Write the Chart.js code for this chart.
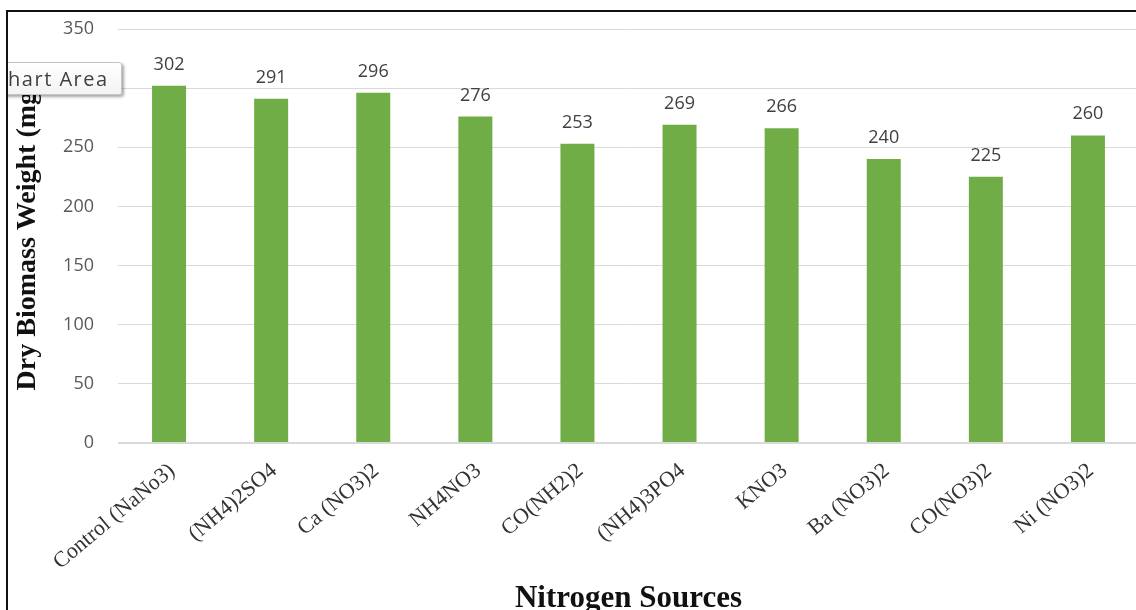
<!DOCTYPE html>
<html>
<head>
<meta charset="utf-8">
<title>Dry Biomass Weight by Nitrogen Source</title>
<script src="https://cdn.jsdelivr.net/npm/chart.js@4.4.1/dist/chart.umd.min.js"></script>
<style>
  html, body { margin: 0; padding: 0; background: #fff; overflow: hidden; width: 1136px; height: 610px; }
  #frame {
    position: absolute; left: 6px; top: 10px; width: 1200px; height: 700px;
    border-left: 2px solid #111; border-top: 2px solid #111;
    overflow: hidden;
  }
  #chart { position: absolute; left: -8px; top: -12px; }
  #areaTag {
    position: absolute; left: -30px; top: 50px; width: 127px; height: 31px;
    padding-left: 15px; box-sizing: content-box;
    border: 1px solid #c4c4c4; border-radius: 3px;
    background: linear-gradient(#ffffff, #f3f3f3);
    box-shadow: 2px 2px 3px rgba(0,0,0,0.35);
    font: 20px "Open Sans", sans-serif; letter-spacing: 1.5px; line-height: 31px; color: #3f3f3f;
    white-space: nowrap;
  }
</style>
</head>
<body>
<div id="frame">
  <canvas id="chart" width="1140" height="610"></canvas>
  <div id="areaTag">Chart Area</div>
</div>
<script>
// Nitrogen sources tested and the dry biomass each one produced (mg)
const sources = [
  'Control (NaNo3)', '(NH4)2SO4', 'Ca (NO3)2', 'NH4NO3', 'CO(NH2)2',
  '(NH4)3PO4', 'KNO3', 'Ba (NO3)2', 'CO(NO3)2', 'Ni (NO3)2'
];
const biomass = [302, 291, 296, 276, 253, 269, 266, 240, 225, 260];
const yTicks = [0, 50, 100, 150, 200, 250, 300, 350];

const yTitle = 'Dry Biomass Weight (mg)';
const xTitle = 'Nitrogen Sources';

Chart.defaults.font.family = '"Open Sans", sans-serif';

// Writes each bar's value above it
const valueLabels = {
  id: 'valueLabels',
  afterDatasetsDraw(chart) {
    const ctx = chart.ctx;
    const meta = chart.getDatasetMeta(0);
    const values = chart.data.datasets[0].data;
    ctx.save();
    ctx.font = '18px "Open Sans", sans-serif';
    ctx.fillStyle = '#404040';
    ctx.textAlign = 'center';
    ctx.textBaseline = 'alphabetic';
    meta.data.forEach((bar, i) => {
      ctx.fillText(String(values[i]), bar.x, bar.y - 16);
    });
    ctx.restore();
  }
};

new Chart(document.getElementById('chart'), {
  type: 'bar',
  data: {
    labels: sources,
    datasets: [{
      data: biomass,
      backgroundColor: '#70AD47',
      borderWidth: 0,
      categoryPercentage: 1,
      barPercentage: 0.333
    }]
  },
  options: {
    responsive: false,
    animation: false,
    devicePixelRatio: 1,
    layout: { padding: { left: 0, right: 1, top: 29, bottom: 0 } },
    plugins: { legend: { display: false }, tooltip: { enabled: false } },
    scales: {
      x: {
        grid: { display: false, drawTicks: false },
        border: { display: false },
        ticks: {
          autoSkip: false,
          minRotation: 40,
          maxRotation: 40,
          padding: 15,
          labelOffset: 3,
          color: '#333333',
          font: { family: '"Liberation Serif", "Times New Roman", serif', size: 22 }
        },
        title: {
          display: true,
          text: xTitle,
          color: '#111',
          padding: { top: 0, bottom: -4 },
          font: { family: '"Liberation Serif", "Times New Roman", serif', size: 31, weight: 'bold', lineHeight: 1 }
        },
        afterFit(scale) { scale.height = 167; scale.paddingLeft = 0; scale.paddingRight = 0; }
      },
      y: {
        min: 0,
        max: 350,
        afterBuildTicks(scale) { scale.ticks = yTicks.map(v => ({ value: v })); },
        grid: {
          color: '#d9d9d9',
          lineWidth: c => (c.tick && c.tick.value === 0 ? 2 : 1),
          drawTicks: false
        },
        border: { display: false },
        ticks: {
          padding: 24,
          color: '#595959',
          font: { size: 18 }
        },
        title: {
          display: true,
          text: yTitle,
          color: '#111',
          padding: { top: 13.5, bottom: 0 },
          font: { family: '"Liberation Serif", "Times New Roman", serif', size: 28, weight: 'bold', lineHeight: 1 }
        },
        afterFit(scale) { scale.width = 118; scale.paddingTop = 0; scale.paddingBottom = 0; }
      }
    }
  },
  plugins: [valueLabels]
});
</script>
</body>
</html>
